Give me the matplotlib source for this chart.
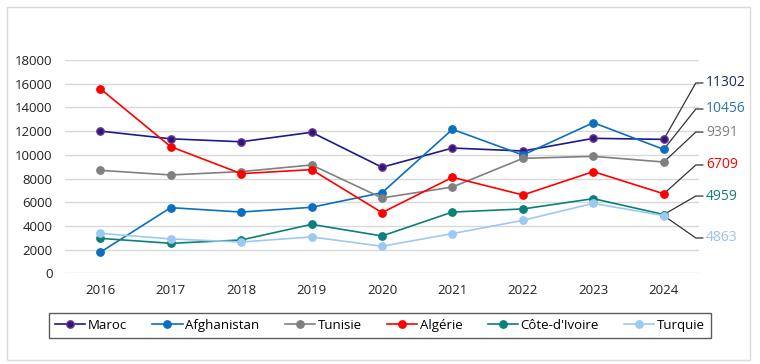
import matplotlib
matplotlib.use('Agg')
import matplotlib.pyplot as plt
from matplotlib.patches import Rectangle

## data
years = [2016, 2017, 2018, 2019, 2020, 2021, 2022, 2023, 2024]
maroc = [12000, 11350, 11100, 11900, 8950, 10570, 10320, 11390, 11302]
afghanistan = [1770, 5540, 5170, 5570, 6800, 12150, 9980, 12710, 10456]
tunisie = [8690, 8300, 8580, 9140, 6360, 7280, 9700, 9870, 9391]
algerie = [15580, 10690, 8410, 8750, 5120, 8100, 6610, 8580, 6709]
cote_ivoire = [2950, 2530, 2810, 4130, 3150, 5170, 5430, 6300, 4959]
turquie = [3370, 2900, 2640, 3070, 2280, 3350, 4470, 5900, 4863]

names = ['Maroc', 'Afghanistan', 'Tunisie', 'Algérie', "Côte-d'Ivoire", 'Turquie']
series = [maroc, afghanistan, tunisie, algerie, cote_ivoire, turquie]

## styles: line colour, marker face, marker edge, label colour
line_cols = ['#1f1a8a', '#0a6fc2', '#808080', '#ff0000', '#0b8078', '#9cc9f2']
face_cols = ['#2a1b6e', '#0a6fc2', '#808080', '#ff0000', '#0b8078', '#9cc9f2']
edge_cols = ['#7030a0', '#0a6fc2', '#808080', '#ff0000', '#0b8078', '#9cc9f2']
text_cols = ['#1f2a5e', '#2e75b6', '#7f7f7f', '#ff0000', '#197c74', '#9dc3e6']
# y position (data units) of the right-hand value labels
label_y = [16060, 13865, 11920, 9140, 6520, 2980]

plt.rcParams['font.family'] = ['Open Sans', 'DejaVu Sans']

W, H = 760, 364
fig = plt.figure(figsize=(W / 100, H / 100), dpi=100, facecolor='white')
fig.patches.append(Rectangle((7 / W, 1 - 360 / H), 743 / W, 353 / H,
                             transform=fig.transFigure, fill=False,
                             edgecolor='#d9d9d9', linewidth=1))

ax = fig.add_axes([65 / W, 1 - 273.3 / H, 634 / W, 213.3 / H])
ax.set_xlim(2015.5, 2024.5)
ax.set_ylim(0, 18000)
ax.set_yticks(range(0, 18001, 2000))
ax.set_xticks(years)
ax.grid(axis='y', color='#d9d9d9', linewidth=1)
ax.set_axisbelow(True)
for s in ax.spines.values():
	s.set_visible(False)
ax.tick_params(length=0, labelsize=9.5, colors='#222222')
ax.tick_params(axis='y', pad=9)
ax.tick_params(axis='x', pad=8)

for name, vals, lc, fc, ec in zip(names, series, line_cols, face_cols, edge_cols):
	ax.plot(years, vals, color=lc, linewidth=1.2, marker='o', markersize=5.3,
	        markerfacecolor=fc, markeredgecolor=ec, markeredgewidth=1, label=name)

## leader lines and value labels at the right
x_bend = 2016 + (695 - 100) / 70.375
x_end = 2016 + (702 - 100) / 70.375
x_txt = 2016 + (705 - 100) / 70.375
for vals, ly, tc in zip(series, label_y, text_cols):
	ax.plot([years[-1], x_bend, x_end], [vals[-1], ly, ly], color='#333333',
	        linewidth=0.9, clip_on=False, zorder=1)
	ax.text(x_txt, ly, str(vals[-1]), color=tc, fontsize=10, va='center',
	        ha='left', clip_on=False)

leg = fig.legend(loc='center', bbox_to_anchor=(0.5, 1 - 325.5 / H), ncol=6,
                 fontsize=9.5, frameon=True, fancybox=False, edgecolor='#333333',
                 handlelength=2.3, handletextpad=0.2, columnspacing=1.9,
                 borderpad=0.45)
leg.get_frame().set_linewidth(1)

fig.savefig('out.png', dpi=100, facecolor='white')
